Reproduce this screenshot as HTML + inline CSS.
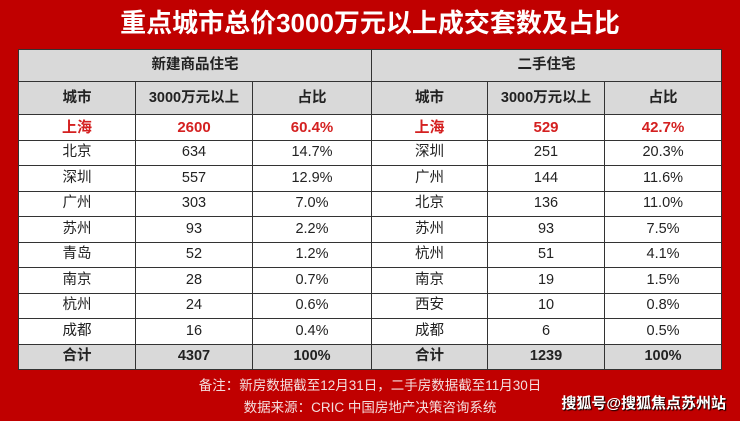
<!DOCTYPE html><html><head><meta charset="utf-8"><style>
body{margin:0;width:740px;height:421px;background:#c00000;position:relative;overflow:hidden;font-family:"Liberation Sans","Noto Sans CJK SC",sans-serif}
.t{position:absolute;top:5px;left:0;width:740px;text-align:center;color:#fff;font-size:26px;font-weight:bold;line-height:36px}
table{position:absolute;left:18px;top:49px;width:703px;border-collapse:collapse;background:#fff;table-layout:fixed}
td{border:1px solid #333;text-align:center;font-size:14.5px;color:#222;height:24.5px;padding:0;line-height:15px}
.g td,td.g{background:#d9d9d9;font-weight:bold}
tr.h1 td{height:31px}tr.h2 td{height:32px}
.r td{color:#d42020;font-weight:bold;font-size:15px}
.f{position:absolute;left:0;width:740px;text-align:center;color:#f4dede;font-size:13.5px}
.w{position:absolute;right:14px;top:392px;color:#fff;font-weight:bold;font-size:15px;text-shadow:1px 1px 1px #000}
</style></head><body>
<div class="t">重点城市总价3000万元以上成交套数及占比</div>
<table>
<colgroup><col style="width:117px"><col style="width:117px"><col style="width:119px"><col style="width:116px"><col style="width:117px"><col style="width:117px"></colgroup>
<tr class="h1 g"><td colspan="3">新建商品住宅</td><td colspan="3">二手住宅</td></tr>
<tr class="h2 g"><td>城市</td><td>3000万元以上</td><td>占比</td><td>城市</td><td>3000万元以上</td><td>占比</td></tr>
<tr class="r"><td>上海</td><td>2600</td><td>60.4%</td><td>上海</td><td>529</td><td>42.7%</td></tr>
<tr><td>北京</td><td>634</td><td>14.7%</td><td>深圳</td><td>251</td><td>20.3%</td></tr>
<tr><td>深圳</td><td>557</td><td>12.9%</td><td>广州</td><td>144</td><td>11.6%</td></tr>
<tr><td>广州</td><td>303</td><td>7.0%</td><td>北京</td><td>136</td><td>11.0%</td></tr>
<tr><td>苏州</td><td>93</td><td>2.2%</td><td>苏州</td><td>93</td><td>7.5%</td></tr>
<tr><td>青岛</td><td>52</td><td>1.2%</td><td>杭州</td><td>51</td><td>4.1%</td></tr>
<tr><td>南京</td><td>28</td><td>0.7%</td><td>南京</td><td>19</td><td>1.5%</td></tr>
<tr><td>杭州</td><td>24</td><td>0.6%</td><td>西安</td><td>10</td><td>0.8%</td></tr>
<tr><td>成都</td><td>16</td><td>0.4%</td><td>成都</td><td>6</td><td>0.5%</td></tr>
<tr class="g"><td>合计</td><td>4307</td><td>100%</td><td>合计</td><td>1239</td><td>100%</td></tr>
</table>
<div class="f" style="top:374px">备注：新房数据截至12月31日，二手房数据截至11月30日</div>
<div class="f" style="top:396px">数据来源：CRIC 中国房地产决策咨询系统</div>
<div class="w">搜狐号@搜狐焦点苏州站</div>
</body></html>
